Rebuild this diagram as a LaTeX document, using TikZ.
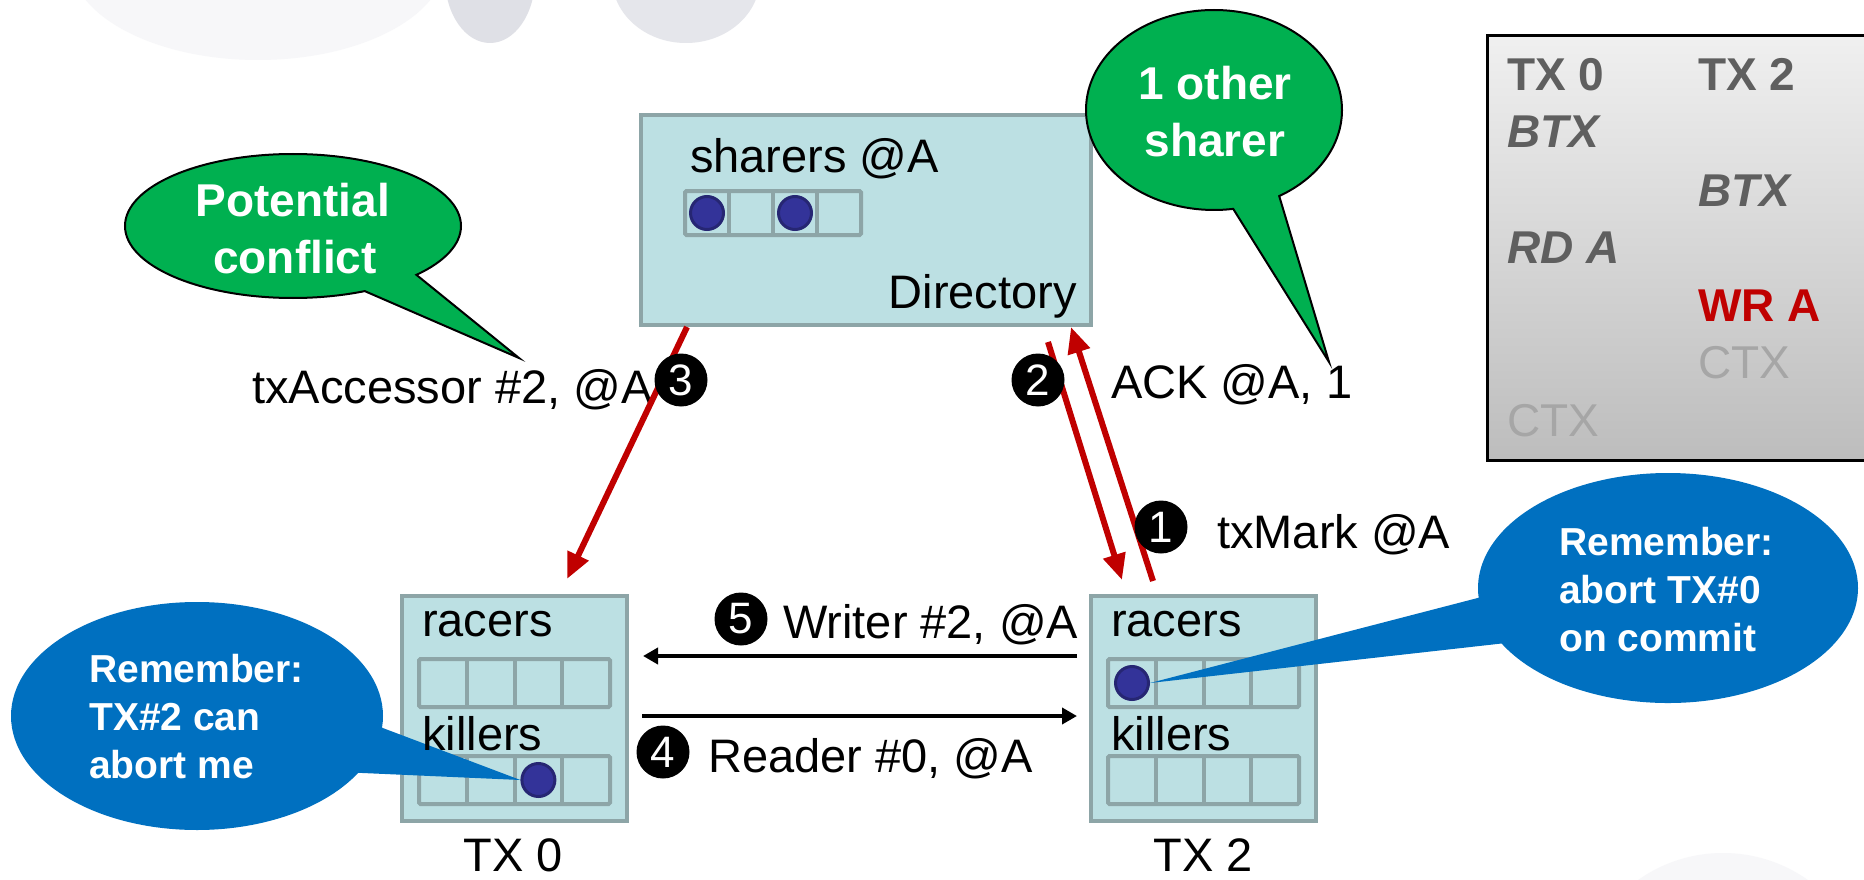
\documentclass[tikz,border=0pt]{standalone}
\usepackage{fontspec}
\setmainfont{Liberation Sans}
\usetikzlibrary{arrows.meta,shapes.callouts,calc}

\definecolor{boxfill}{HTML}{BCE0E3}
\definecolor{boxline}{HTML}{8DA5A7}
\definecolor{dotfill}{HTML}{333399}
\definecolor{dotline}{HTML}{262673}
\definecolor{callgreen}{HTML}{00B050}
\definecolor{callblue}{HTML}{0070C0}
\definecolor{msgred}{HTML}{C00000}
\definecolor{histtext}{HTML}{5F5F5F}
\definecolor{histdone}{HTML}{A6A6A6}
\definecolor{decofaint}{HTML}{F7F7F9}
\definecolor{decolens}{HTML}{DFE0E6}

\tikzset{
  box/.style={draw=boxline, fill=boxfill, line width=4pt, inner sep=0pt, anchor=north west},
  cellrow/.style={draw=boxline, line width=4pt, rounded corners=1.5pt},
  dot/.style={circle, draw=dotline, fill=dotfill, line width=3pt, minimum size=33pt, inner sep=0pt},
  lbl/.style={inner sep=0pt, anchor=base west, font=\fontsize{47pt}{56pt}\selectfont},
  num/.style={circle, fill=black, text=white, minimum size=53pt, inner sep=0pt,
    font=\fontsize{44pt}{44pt}\selectfont},
  greencall/.style={ellipse callout, fill=callgreen, draw=black, line width=2pt,
    inner sep=0pt, callout pointer arc=22},
  bluecall/.style={ellipse callout, fill=callblue, inner sep=0pt, callout pointer arc=24},
  gtext/.style={inner sep=0pt, anchor=base, text=white,
    font=\fontsize{46pt}{56pt}\selectfont\bfseries},
  btext/.style={inner sep=0pt, anchor=base west, text=white,
    font=\fontsize{39pt}{48pt}\selectfont\bfseries},
  redmsg/.style={draw=msgred, line width=6pt, -{Triangle[length=26pt,width=22pt]}},
  blackmsg/.style={draw=black, line width=4pt, -{Triangle[length=15pt,width=16pt]}},
  hist/.style={inner sep=0pt, anchor=base west, font=\fontsize{46pt}{56pt}\selectfont},
  txcells/.pic={
    \draw[cellrow] (19,65) rectangle (210,113);
    \foreach \i in {1,2,3} \draw[cellrow] ({19+47.75*\i},65) -- ({19+47.75*\i},113);
    \draw[cellrow] (19,162) rectangle (210,210);
    \foreach \i in {1,2,3} \draw[cellrow] ({19+47.75*\i},162) -- ({19+47.75*\i},210);
  }
}

\begin{document}
\begin{tikzpicture}[x=1pt,y=-1pt]
\useasboundingbox (0,0) rectangle (1864,880);
\clip (0,0) rectangle (1864,880);
\fill[white] (0,0) rectangle (1864,880);

% faint backdrop ornaments
\fill[decofaint] (258,-40) ellipse [x radius=188, y radius=100];
\fill[decolens] (490,-22) ellipse [x radius=45, y radius=65];
\fill[decolens!80!white] (686,-22) ellipse [x radius=74, y radius=65];
\fill[decofaint] (1723,1000) circle [radius=147];

% event history table
\node[draw=black, line width=3pt, top color=black!6, bottom color=black!26,
      minimum width=400pt, minimum height=425pt, inner sep=0pt, anchor=north west]
      (hist) at (1486,34) {};
\node[hist, text=histtext, font=\fontsize{46pt}{56pt}\selectfont\bfseries] at (1507,91) {TX 0};
\node[hist, text=histtext, font=\fontsize{46pt}{56pt}\selectfont\bfseries] at (1698,91) {TX 2};
\node[hist, text=histtext, font=\fontsize{46pt}{56pt}\selectfont\bfseries\itshape] at (1507,148) {BTX};
\node[hist, text=histtext, font=\fontsize{46pt}{56pt}\selectfont\bfseries\itshape] at (1698,206) {BTX};
\node[hist, text=histtext, font=\fontsize{46pt}{56pt}\selectfont\bfseries\itshape] at (1507,263) {RD A};
\node[hist, text=msgred, font=\fontsize{46pt}{56pt}\selectfont\bfseries] at (1698,321) {WR A};
\node[hist, text=histdone] at (1698,378) {CTX};
\node[hist, text=histdone] at (1507,436) {CTX};

% directory and the two transactions
\node[box, minimum width=450pt, minimum height=210pt] (dir) at (639,113) {};
\node[box, minimum width=225pt, minimum height=225pt] (tx0) at (400,594) {};
\node[box, minimum width=225pt, minimum height=225pt] (tx2) at (1089,594) {};

% sharer bit vector
\draw[cellrow] (685,191) rectangle (861,235);
\foreach \i in {1,2,3} \draw[cellrow] ({685+44*\i},191) -- ({685+44*\i},235);
\node[dot] (sh0) at (707,213) {};
\node[dot] (sh2) at (795,213) {};

% racers / killers vectors
\pic at (tx0.north west) {txcells};
\pic at (tx2.north west) {txcells};
\node[dot] (k0dot) at ([shift={(138.4,186)}]tx0.north west) {};
\node[dot] (r2dot) at ([shift={(43,89)}]tx2.north west) {};

% callouts
\coordinate (pcTip) at (519,358);
\coordinate (osTip) at (1329,362);
\node[greencall, minimum width=336pt, minimum height=144pt,
      callout absolute pointer={(pcTip)}] (pc) at (293,226) {};
\node[gtext] at (293,216) {Potential};
\node[gtext] at (295,273) {conflict};
\node[greencall, minimum width=256pt, minimum height=200pt,
      callout absolute pointer={(osTip)}] (os) at (1214,110) {};
\node[gtext] at (1215,100) {1 other};
\node[gtext] at (1215,157) {sharer};

\node[bluecall, minimum width=372pt, minimum height=228pt,
      callout absolute pointer={(k0dot.west)}] (rm0) at (197,716) {};
\node[btext] at (89,682) {Remember:};
\node[btext] at (89,730) {TX\#2 can};
\node[btext] at (89,778) {abort me};
\node[bluecall, minimum width=380pt, minimum height=230pt,
      callout absolute pointer={(r2dot.east)}] (rm2) at (1668,588) {};
\node[btext] at (1559,555) {Remember:};
\node[btext] at (1559,603) {abort TX\#0};
\node[btext] at (1559,651) {on commit};

% box captions
\node[lbl] at (690,173) {sharers @A};
\node[lbl, anchor=base east] at (1077,308) {Directory};
\foreach \t in {tx0,tx2} {
  \node[lbl] at ([shift={(22,42)}]\t.north west) {racers};
  \node[lbl] at ([shift={(22,156)}]\t.north west) {killers};
}
\node[lbl, anchor=base] at (513,871) {TX 0};
\node[lbl, anchor=base] at (1203,871) {TX 2};

% message labels
\node[lbl] (accl) at (252,403) {txAccessor \#2, @A};
\node[lbl] (ackl) at (1111,398) {ACK @A, 1};
\node[lbl] (markl) at (1217,548) {txMark @A};
\node[lbl] (wrl) at (783,638) {Writer \#2, @A};
\node[lbl] (rdl) at (708,772) {Reader \#0, @A};

% coherence messages
\draw[redmsg] ([xshift=64pt,yshift=13pt]tx2.north west) -- ([xshift=-22pt]dir.south east);
\draw[redmsg] ([xshift=-45pt,yshift=-15pt]dir.south east) -- ([xshift=33pt,yshift=14pt]tx2.north west);
\draw[redmsg] ([xshift=48pt]dir.south west) -- ([xshift=167pt,yshift=15pt]tx0.north west);
\draw[blackmsg] ([xshift=13pt,yshift=-7.5pt]tx0.east) -- ([xshift=-12pt,yshift=-7.5pt]tx2.west);
\draw[blackmsg] ([xshift=-12pt,yshift=52.5pt]tx2.west) -- ([xshift=14pt,yshift=52.5pt]tx0.east);

% step numbers
\node[num] (n1) at (1161,527) {1};
\node[num] (n2) at (1038,380) {2};
\node[num] (n3) at (681,380) {3};
\node[num] (n4) at (663,752) {4};
\node[num] (n5) at (741,619) {5};
\end{tikzpicture}
\end{document}
